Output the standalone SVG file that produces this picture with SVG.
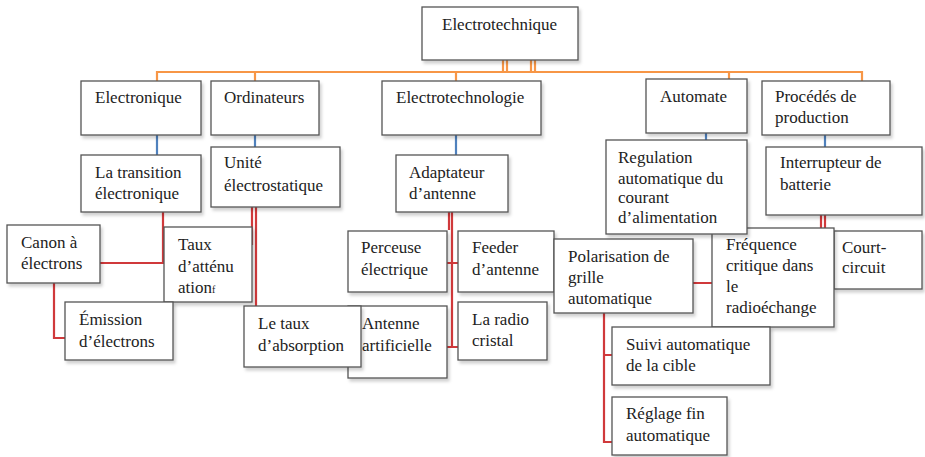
<svg xmlns="http://www.w3.org/2000/svg" width="925" height="457" viewBox="0 0 925 457">
<style>
.box{fill:#fff;stroke:#555;stroke-width:1.3;filter:url(#sh)}
.t{font-family:"Liberation Serif","Times New Roman",serif;font-size:17px;fill:#222}
.or{stroke:#F79646;stroke-width:2.2;fill:none}
.bl{stroke:#4F81BD;stroke-width:2.2;fill:none}
.rd{stroke:#D0393B;stroke-width:2.2;fill:none}
</style>
<defs>
<filter id="sh" x="-10%" y="-10%" width="130%" height="140%">
<feDropShadow dx="2" dy="3" stdDeviation="1.5" flood-color="#000" flood-opacity="0.18"/>
</filter>
</defs>
<rect width="925" height="457" fill="#fff"/>
<g id="connectors">
<path class="or" d="M157,81 V72 H862 V81 M255,72 V81 M456,72 V81 M729,72 V79 M503,60 V72 M507,60 V72 M531,60 V72 M535,60 V72"/>
<path class="bl" d="M157,135 V155 M255,135 V147 M456,135 V155 M706,133 V140 M825,135 V147"/>
<path class="rd" d="M163,212 V263 H100 M54,283 V338 H65 M252,207 V245 M256,207 V306"/>
<path class="rd" d="M452,212 V347 M447,263 H459 M447,347 H459 M449,212 V230"/>
<path class="rd" d="M693,283 H712 M604,313 V442 H612 M604,355 H612 M821,215 V228 M825,215 V228"/>
</g>
<g id="n-root"><rect class="box" x="422" y="7" width="156" height="53"/><text class="t" x="442" y="30">Electrotechnique</text></g>
<g id="n-electronique"><rect class="box" x="81" y="81" width="120" height="54"/><text class="t" x="95" y="103">Electronique</text></g>
<g id="n-ordinateurs"><rect class="box" x="211" y="81" width="108" height="54"/><text class="t" x="224" y="103">Ordinateurs</text></g>
<g id="n-electrotechnologie"><rect class="box" x="382" y="81" width="159" height="54"/><text class="t" x="396" y="103">Electrotechnologie</text></g>
<g id="n-automate"><rect class="box" x="646" y="79" width="101" height="54"/><text class="t" x="660" y="102">Automate</text></g>
<g id="n-procedes"><rect class="box" x="762" y="81" width="128" height="54"/><text class="t" x="775" y="102">Procédés de</text><text class="t" x="775" y="123">production</text></g>
<g id="n-transition"><rect class="box" x="81" y="155" width="120" height="57"/><text class="t" x="95" y="178">La transition</text><text class="t" x="95" y="199">électronique</text></g>
<g id="n-unite"><rect class="box" x="211" y="147" width="129" height="60"/><text class="t" x="224" y="168">Unité</text><text class="t" x="224" y="191">électrostatique</text></g>
<g id="n-adaptateur"><rect class="box" x="396" y="155" width="112" height="57"/><text class="t" x="409" y="178">Adaptateur</text><text class="t" x="409" y="199">d’antenne</text></g>
<g id="n-interrupteur"><rect class="box" x="766" y="147" width="156" height="68"/><text class="t" x="780" y="168">Interrupteur de</text><text class="t" x="780" y="190">batterie</text></g>
<g id="n-canon"><rect class="box" x="7" y="225" width="93" height="58"/><text class="t" x="21" y="248">Canon à</text><text class="t" x="21" y="269">électrons</text></g>
<g id="n-taux"><rect class="box" x="164" y="227" width="88" height="75"/><text class="t" x="178" y="250">Taux</text><text class="t" x="178" y="272">d’atténu</text><text class="t" x="178" y="293">ation<tspan font-size="10">f</tspan></text></g>
<g id="n-emission"><rect class="box" x="65" y="302" width="108" height="58"/><text class="t" x="79" y="325">Émission</text><text class="t" x="79" y="347">d’électrons</text></g>
<g id="n-perceuse"><rect class="box" x="348" y="231" width="99" height="61"/><text class="t" x="361" y="253">Perceuse</text><text class="t" x="361" y="275">électrique</text></g>
<g id="n-antenne"><rect class="box" x="348" y="306" width="99" height="72"/><text class="t" x="362" y="329">Antenne</text><text class="t" x="362" y="351">artificielle</text></g>
<g id="n-letaux"><rect class="box" x="244" y="306" width="117" height="61"/><text class="t" x="258" y="329">Le taux</text><text class="t" x="258" y="351">d’absorption</text></g>
<g id="n-feeder"><rect class="box" x="458" y="231" width="96" height="61"/><text class="t" x="472" y="253">Feeder</text><text class="t" x="472" y="275">d’antenne</text></g>
<g id="n-radio"><rect class="box" x="458" y="302" width="89" height="58"/><text class="t" x="472" y="325">La radio</text><text class="t" x="472" y="346">cristal</text></g>
<g id="n-polarisation"><rect class="box" x="554" y="239" width="139" height="74"/><text class="t" x="568" y="262">Polarisation de</text><text class="t" x="568" y="283">grille</text><text class="t" x="568" y="304">automatique</text></g>
<g id="n-court"><rect class="box" x="834" y="231" width="88" height="58"/><text class="t" x="842" y="253">Court-</text><text class="t" x="842" y="273">circuit</text></g>
<g id="n-frequence"><rect class="box" x="712" y="228" width="122" height="99"/><text class="t" x="726" y="250">Fréquence</text><text class="t" x="726" y="271">critique dans</text><text class="t" x="726" y="292">le</text><text class="t" x="726" y="313">radioéchange</text></g>
<g id="n-regulation"><rect class="box" x="606" y="140" width="141" height="94"/><text class="t" x="618" y="163">Regulation</text><text class="t" x="618" y="184">automatique du</text><text class="t" x="618" y="203">courant</text><text class="t" x="618" y="223">d’alimentation</text></g>
<g id="n-suivi"><rect class="box" x="612" y="327" width="158" height="58"/><text class="t" x="626" y="350">Suivi automatique</text><text class="t" x="626" y="371">de la cible</text></g>
<g id="n-reglage"><rect class="box" x="612" y="397" width="115" height="58"/><text class="t" x="626" y="419">Réglage fin</text><text class="t" x="626" y="441">automatique</text></g>
</svg>
